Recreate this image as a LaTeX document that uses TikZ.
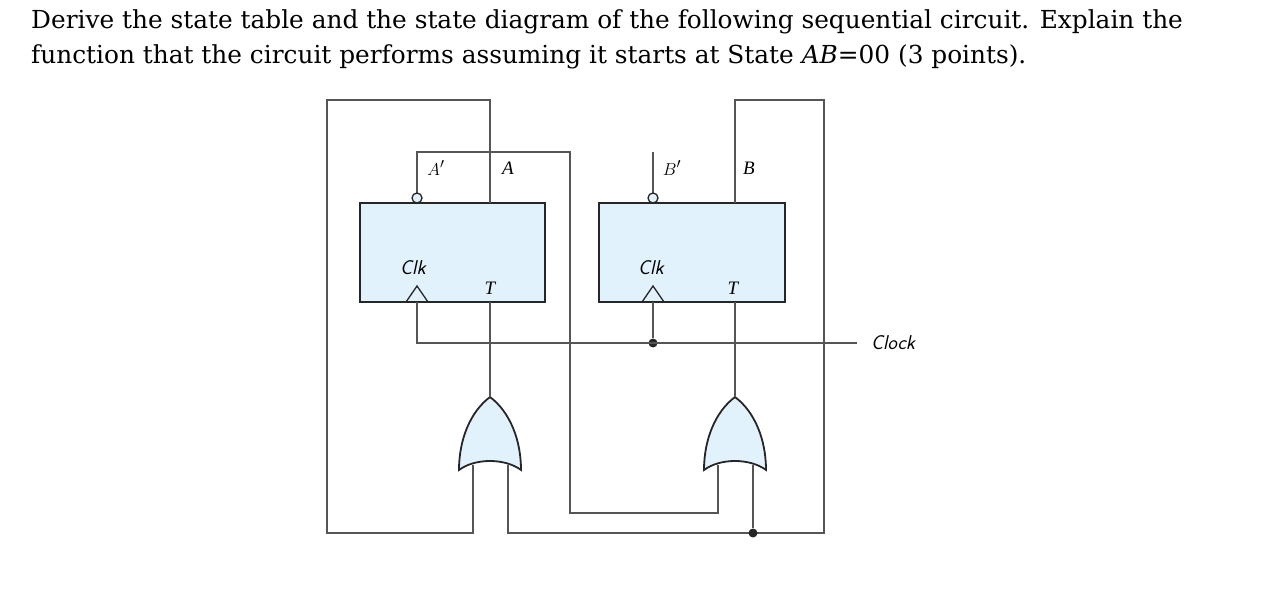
\documentclass[tikz,border=0pt]{standalone}
\usepackage{fontspec}
\setmainfont{DejaVu Serif}
\newfontfamily\cirf{Liberation Serif}
\definecolor{ffblue}{HTML}{E2F2FC}
\definecolor{wire}{HTML}{555555}
\begin{document}
\begin{tikzpicture}[x=1pt,y=-1pt,
  wirestyle/.style={draw=wire,line width=1.8pt},
  ffbox/.style={draw=black!85,line width=2pt,fill=ffblue},
  lbl/.style={font=\cirf\itshape\fontsize{19}{19}\selectfont,inner sep=0pt},
  sans/.style={font=\sffamily\itshape\fontsize{20}{20}\selectfont,inner sep=0pt},
  dotc/.style={circle,fill=black!85,inner sep=0pt,minimum size=9pt},
  bub/.style={circle,draw=black!85,fill=ffblue,line width=1.3pt,inner sep=0pt,minimum size=10pt}]
\useasboundingbox (0,0) rectangle (1268,612);
\node[anchor=west,font=\fontsize{24.8}{24}\selectfont,inner sep=0pt] (t1) at (31,22) {Derive the state table and the state diagram of the following sequential circuit. Explain the};
\node[anchor=west,font=\fontsize{24.8}{24}\selectfont,inner sep=0pt] (t2) at (31,57) {function that the circuit performs assuming it starts at State \textit{AB}=00 (3 points).};
% flip-flops
\draw[ffbox] (360,203) rectangle (545,302);
\draw[ffbox] (599,203) rectangle (785,302);
\node[sans] (clka) at (413,268) {Clk};
\node[sans] (clkb) at (651,268) {Clk};
\node[lbl] (ta) at (490,288) {T};
\node[lbl] (tb) at (733,288) {T};
\draw[draw=black!85,line width=1.3pt] (406,302) -- (417,286) -- (428,302);
\draw[draw=black!85,line width=1.3pt] (642,302) -- (653,286) -- (664,302);
\node[lbl] (la') at (436,168) {$A'$};
\node[lbl] (la) at (508,168) {\textit{A}};
\node[lbl] (lb') at (672,168) {$B'$};
\node[lbl] (lb) at (749,168) {\textit{B}};
% OR gates
\draw[ffbox,line width=1.8pt] (459,470) .. controls (459,440) and (470,412) .. (490,397)
     .. controls (510,412) and (521,440) .. (521,470)
     .. controls (505,458) and (475,458) .. cycle;
\draw[ffbox,line width=1.8pt] (704,470) .. controls (704,440) and (715,412) .. (735,397)
     .. controls (755,412) and (766,440) .. (766,470)
     .. controls (750,458) and (720,458) .. cycle;
\coordinate (gaout) at (490,397);
\coordinate (gal) at (473,465);
\coordinate (gar) at (508,465);
\coordinate (gbout) at (735,397);
\coordinate (gbl) at (718,465);
\coordinate (gbr) at (753,465);
\coordinate (tain) at (490,302);
\coordinate (tbin) at (735,302);
\draw[wirestyle] (tain) -- (gaout);
\draw[wirestyle] (tbin) -- (gbout);
% A' -> right OR left input
\draw[wirestyle] (417,201) -- (417,152) -- (570,152) -- (570,513) -- (718,513) -- (gbl);
\node[bub] (ba) at (417,198) {};
% A -> left OR left
\draw[wirestyle] (490,203) -- (490,100) -- (327,100) -- (327,533) -- (473,533) -- (gal);
% B -> both right inputs
\draw[wirestyle] (735,203) -- (735,100) -- (824,100) -- (824,533) -- (508,533) -- (gar);
\node[dotc] (jb) at (753,533) {};
\draw[wirestyle] (gbr) -- (jb);
% B'
\draw[wirestyle] (653,201) -- (653,152);
\node[bub] (bb) at (653,198) {};
% clock
\node[dotc] (jc) at (653,343) {};
\node[sans,anchor=west] (clk) at (871,343) {Clock};
\coordinate (clkend) at (857,343);
\draw[wirestyle] (417,302) -- (417,343) -- (clkend);
\draw[wirestyle] (653,302) -- (jc);
\end{tikzpicture}
\end{document}
